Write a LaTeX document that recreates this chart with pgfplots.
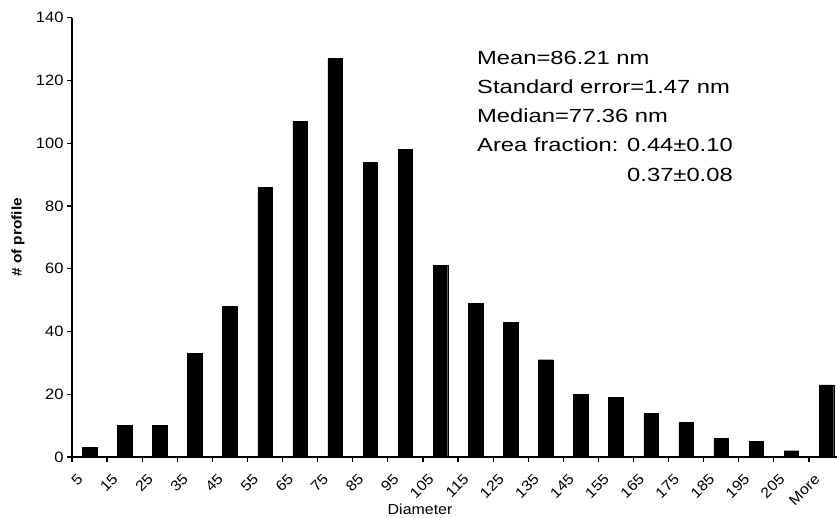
\documentclass[border=0pt]{standalone}
\usepackage{pgfplots}
\pgfplotsset{compat=1.18}
\usepackage{fontspec}
\setmainfont{Liberation Sans}[FakeStretch=1.1]
\newfontfamily\annfont{Liberation Sans}[FakeStretch=1.25]
\begin{document}
\begin{tikzpicture}
\begin{axis}[
  scale only axis, width=765bp, height=439.3bp,
  xmin=-0.5, xmax=21.3, ymin=0, ymax=140,
  axis lines*=left,
  axis line style={line width=1.2bp, black},
  tick align=outside,
  ytick={0,20,...,140},
  xtick={0,...,21},
  xticklabels={5,15,25,35,45,55,65,75,85,95,105,115,125,135,145,155,165,175,185,195,205,More},
  minor xtick={-0.5,0.5,...,20.5},
  major tick length=5bp, minor tick length=5bp,
  tick style={line width=1.2bp, black},
  major x tick style={draw=none},
  ticklabel style={font=\fontsize{15bp}{17bp}\selectfont},
  xticklabel style={font=\fontsize{14.5bp}{16bp}\selectfont, xshift=-13bp, yshift=-11bp, rotate=45, anchor=north east, inner sep=0pt},
  yticklabel style={/pgf/number format/assume math mode=true},
  ylabel={\textbf{\# of profile}},
  ylabel style={font=\fontsize{14bp}{16bp}\selectfont, at={(axis description cs:-0.0706,0.5)}, anchor=center},
  xlabel={Diameter},
  xlabel style={font=\fontsize{14.5bp}{16bp}\selectfont, at={(axis description cs:0.455,-0.132)}, anchor=base},
  clip=false,
]
\addplot[ybar, bar width=14.5bp, fill=black, draw=black] coordinates {
(0,3)(1,10)(2,10)(3,33)(4,48)(5,86)(6,107)(7,127)(8,94)(9,98)(10,61)
(11,49)(12,43)(13,31)(14,20)(15,19)(16,14)(17,11)(18,6)(19,5)(20,2)(21,23)};
\end{axis}
\node[anchor=base west, inner sep=0pt] at (405bp,392.7bp) {\annfont\fontsize{19bp}{29.2bp}\selectfont
\begin{tabular}[t]{@{}l@{}}
Mean=86.21 nm\\
Standard error=1.47 nm\\
Median=77.36 nm\\
Area fraction: 0.44±0.10\\
\hfill 0.37±0.08
\end{tabular}};
\pgfresetboundingbox
\useasboundingbox (-72bp,-61bp) rectangle (765bp,457bp);
\end{tikzpicture}
\end{document}
